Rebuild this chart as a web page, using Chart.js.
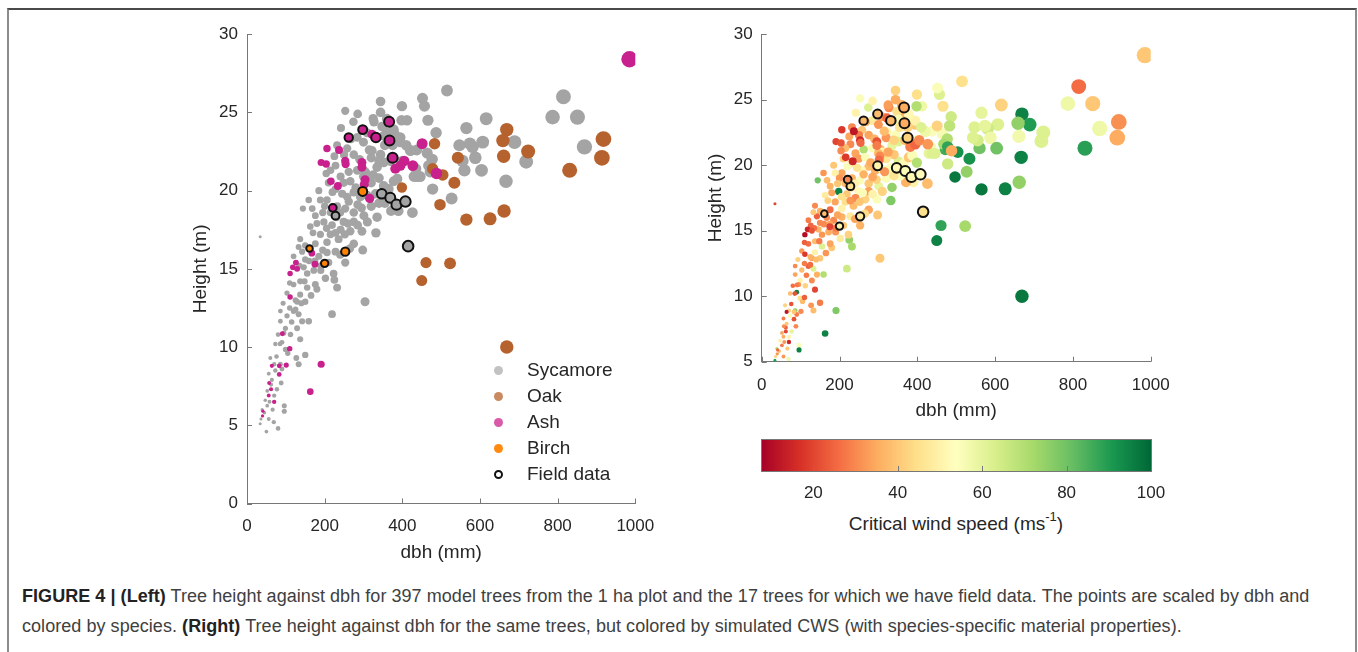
<!DOCTYPE html>
<html>
<head>
<meta charset="utf-8">
<script src="https://cdn.jsdelivr.net/npm/chart.js@4.4.1/dist/chart.umd.min.js"></script>
<style>
  body { margin: 0; width: 1358px; height: 652px; overflow: hidden; position: relative; background: #fff;
         font-family: "Liberation Sans", Arial, sans-serif; color: #262626; }
  .frame { position: absolute; left: 7px; top: 8px; width: 1346px; height: 700px;
           border-top: 2px solid #4a4a4a; border-left: 2px solid #8c8c8c; border-right: 2px solid #8c8c8c; }
  .box { position: absolute; }
  .legend { position: absolute; left: 490px; top: 357px; font-size: 19px; }
  .legend .row { height: 26px; line-height: 26px; position: relative; padding-left: 37px; }
  .legend .mk { position: absolute; left: 4px; top: 8.5px; width: 9px; height: 9px; border-radius: 50%; box-sizing: border-box; }
  .cbtitle { position: absolute; left: 761px; width: 390px; top: 511px; text-align: center; font-size: 19px; }
  .cbtitle sup { font-size: 13px; position: relative; top: -2px; }
  .caption { position: absolute; left: 22px; top: 581px; font-size: 18px; line-height: 30px; color: #404040; white-space: nowrap; letter-spacing: 0.05px; }
  .caption b { color: #222; }
</style>
</head>
<body>
<div class="frame"></div>
<div class="box" style="left:185px;top:15px;width:485px;height:551px"><canvas id="left"></canvas></div>
<div class="box" style="left:700px;top:15px;width:490px;height:409px"><canvas id="right"></canvas></div>
<div class="box" style="left:700px;top:425px;width:490px;height:80px"><canvas id="cbar"></canvas></div>
<div class="legend" id="legend"></div>
<div class="cbtitle">Critical wind speed (ms<sup>-1</sup>)</div>
<div class="caption"><b>FIGURE 4 | (Left)</b> Tree height against dbh for 397 model trees from the 1 ha plot and the 17 trees for which we have field data. The points are scaled by dbh and<br>colored by species. <b>(Right)</b> Tree height against dbh for the same trees, but colored by simulated CWS (with species-specific material properties).</div>
<script>
// [dbh (mm), height (m), critical wind speed (m/s)]
const sycamoreTrees = [
  [515,26.4,45],[815,26.0,26],[787,24.7,58],[851,24.7,40],[869,22.8,58],
  [616,24.6,42],[565,24.0,60],[689,23.1,90],[719,21.85,62],[667,20.6,95],
  [607,23.1,62],[581,22.8,65],[547,22.9,62],[588,22.1,58],[604,21.3,80],
  [560,21.3,80],[555,21.9,64],[466,24.5,45],[487,23.7,65],[457,25.4,62],
  [452,25.9,55],[399,25.4,45],[412,24.5,58],[344,25.7,42],[344,25.0,35],
  [253,25.1,55],[274,24.4,62],[242,24.0,50],[327,24.4,30],[398,24.5,70],
  [472,21.2,86],[478,20.1,65],[527,19.5,75],[430,20.9,60],[435,21.4,56],
  [426,18.6,38],[304,12.9,40],[219,12.1,65],[332,17.3,78],[298,16.2,40],
  [253,15.4,36],[225,14.3,75],[190,14.9,32],[360,23.7,36],[381,23.6,55],
  [394,23.1,40],[420,22.6,60],[437,22.6,55],[446,20.9,62],[390,18.7,50],
  [325,24.6,33],[348,24.1,45],[378,23.9,52],[309,23.7,34],[284,23.4,48],
  [352,23.5,56],[395,23.4,50],[421,22.55,58],[574,23.0,60],[464,22.4,56],
  [477,22.0,70],[232,22.9,30],[258,22.7,40],[275,22.3,34],[322,22.55,52],
  [320,22.1,32],[344,22.3,55],[352,21.8,62],[369,21.9,38],[335,21.5,60],
  [305,21.2,36],[284,21.3,55],[262,21.2,70],[241,20.9,34],[228,21.6,30],
  [215,21.3,38],[204,21.1,30],[210,20.5,42],[228,20.1,50],[249,20.5,33],
  [266,20.6,55],[275,19.9,38],[258,19.6,52],[292,19.6,36],[309,19.7,58],
  [331,19.8,55],[352,20.3,62],[365,20.1,52],[378,20.6,40],[387,20.75,55],
  [438,20.9,62],[468,21.6,72],[371,18.7,36],[335,18.3,75],[301,18.4,60],
  [275,18.6,40],[253,18.85,55],[232,19.0,36],[206,19.4,34],[189,19.4,50],
  [168,18.85,38],[159,19.4,32],[144,18.85,80],[176,18.4,36],[198,18.0,95],
  [219,17.8,40],[249,18.0,52],[275,18.0,33],[296,17.4,55],[266,17.4,42],
  [241,17.5,30],[215,17.2,45],[189,17.2,34],[163,17.7,48],[137,16.9,30],
  [150,16.5,36],[176,16.6,26],[206,16.7,50],[236,16.9,38],[275,16.6,34],
  [228,16.1,48],[206,16.05,36],[185,15.8,30],[142,16.1,24],[133,16.4,40],
  [172,14.9,35],[202,14.4,48],[232,13.8,72],[155,14.7,32],[137,14.2,38],
  [155,13.8,62],[180,13.7,40],[120,14.0,26],[103,13.45,32],[137,13.35,50],
  [150,12.9,40],[129,12.9,34],[120,12.3,24],[133,12.1,62],[142,11.65,36],
  [159,11.65,70],[103,12.0,38],[86,11.65,34],[99,11.2,50],[129,11.2,30],
  [112,10.8,42],[137,10.5,20],[80,10.8,26],[73,10.2,38],[90,10.3,95],
  [99,9.85,45],[127,9.3,32],[150,9.5,28],[133,8.9,38],[76,9.4,22],
  [86,8.9,75],[60,9.3,42],[73,8.5,55],[56,8.3,28],[64,7.9,40],
  [77,7.3,60],[52,7.2,34],[47,6.6,48],[96,6.25,55],[96,5.9,95],
  [52,6.25,28],[39,6.0,70],[36,5.4,42],[34,5.1,90],[56,5.4,32],
  [50,4.6,40],[80,4.8,52],[69,5.2,58],[34,17.05,20],[150,15.6,30],
  [146,15.1,36],[223,14.7,42],[176,14.0,34],[93,12.8,42],[86,12.3,30],
  [290,22.0,36],[310,21.0,50],[340,20.8,40],[355,19.2,55],[320,20.5,46],
  [295,18.9,42],[280,20.2,35],[260,17.9,55],[230,18.3,38],[195,16.2,34],
  [170,17.3,42],[160,15.5,30],[125,13.0,36],[110,12.5,28],
  [185,20.0,40],[200,19.0,32],[215,18.6,38],[240,18.6,50],[262,19.3,36],
  [285,19.1,34],[245,19.8,46],[220,19.9,55],[195,18.6,40],[180,17.9,34],
  [205,17.6,45],[228,17.3,32],[252,17.2,40],[285,17.8,50],[310,18.0,42],
  [320,19.0,55],[340,19.2,46],[300,20.9,38],[325,21.0,34],[340,21.9,42],
  [315,22.6,38],[300,23.1,32],[268,23.3,36],[250,22.3,28],[225,22.2,34],
  [285,24.9,50],[360,24.6,36],[375,22.9,42],[400,21.9,55],[410,22.9,62],
  [355,22.9,46],[160,16.3,28],[175,15.5,34],[190,15.2,28],[210,15.4,40],
  [240,15.9,34],[265,16.3,44],[148,14.2,28],[165,13.3,32],[125,12.4,26],
  [140,12.8,38],[115,11.6,28],[95,10.9,32],[85,10.2,22],[105,9.6,38],
  [90,8.6,28],[70,8.9,42],[62,7.6,24],[70,6.9,50],[58,6.5,32],
  [45,5.8,38],[88,7.7,30],[66,6.0,40],[120,15.8,28],[135,15.2,26],
  [110,14.1,24]
];
const oakTrees = [
  [669,23.9,95],[659,23.2,75],[661,22.2,57],[724,22.5,62],[918,23.3,31],
  [914,22.1,35],[831,21.3,89],[543,22.1,62],[483,23.0,68],[478,21.4,88],
  [504,21.0,92],[534,20.5,92],[399,20.2,70],[497,19.1,97],[565,18.15,97],
  [626,18.2,95],[662,18.7,75],[461,15.4,88],[523,15.35,72],[450,14.25,95],
  [669,10.0,97]
];
const ashTrees = [
  [985,28.4,40],[206,22.7,18],[237,22.6,12],[191,21.8,20],[204,21.7,22],
  [253,21.9,15],[254,21.7,25],[296,21.8,22],[296,21.5,28],[216,20.6,18],
  [234,20.3,15],[304,20.7,30],[302,20.4,26],[316,19.5,32],[322,23.6,25],
  [382,21.4,28],[395,21.6,25],[405,21.9,30],[427,21.6,32],[451,23.0,42],
  [488,21.1,35],[167,16.0,30],[175,15.3,20],[126,15.4,25],[118,15.1,15],
  [129,15.0,22],[111,14.7,10],[111,13.2,18],[91,10.85,28],[110,9.9,24],
  [191,8.9,78],[101,8.85,30],[83,8.8,40],[64,8.8,12],[83,8.25,22],
  [163,7.15,95],[57,7.7,30],[62,7.3,20],[56,6.9,35],[70,6.5,15],
  [41,5.9,25],[40,5.6,32]
];
const birchTrees = [];
// trees with field data (drawn with black edge)
const ashField = [[366,24.4,35],[298,23.9,38],[262,23.4,37],[332,23.4,37],[367,23.2,35],[375,22.1,42],[221,18.9,30]];
const birchField = [[298,19.95,50],[161,16.3,38],[253,16.1,48],[200,15.35,50]];
const sycamoreField = [[228,18.4,45],[347,19.8,52],[369,19.55,53],[385,19.1,52],[408,19.3,53],[415,16.45,45]];

const species = ['Sycamore', 'Oak', 'Ash', 'Birch'];
const speciesColors = ['#a4a4a4', '#b5622e', '#c8208c', '#ff8200'];
const legendColors = ['#c2c2c2', '#c98a62', '#d85aa8', '#ff8a10'];

const xTicks = [0, 200, 400, 600, 800, 1000];
const leftYTicks = [0, 5, 10, 15, 20, 25, 30];
const rightYTicks = [5, 10, 15, 20, 25, 30];
const colorTicks = [20, 40, 60, 80, 100];
const cwsMin = 7.6, cwsMax = 100;
const cwsColors = ['#a50026','#d73027','#f46d43','#fdae61','#fee08b','#ffffbf','#d9ef8b','#a6d96a','#66bd63','#1a9850','#006837'];

const axisColor = '#777777';
const textColor = '#262626';
const tickFont = { family: 'Liberation Sans', size: 17 };
const titleFont = { family: 'Liberation Sans', size: 19 };

function hexRgb(h) { return [1, 3, 5].map(i => parseInt(h.slice(i, i + 2), 16)); }
function cwsColor(v) {
  const t = Math.min(1, Math.max(0, (v - cwsMin) / (cwsMax - cwsMin))) * (cwsColors.length - 1);
  const i = Math.min(Math.floor(t), cwsColors.length - 2), f = t - i;
  const a = hexRgb(cwsColors[i]), b = hexRgb(cwsColors[i + 1]);
  return 'rgb(' + a.map((c, k) => Math.round(c + (b[k] - c) * f)).join(',') + ')';
}
function sizeFor(ctx) { return ctx.raw ? 0.26 * Math.sqrt(ctx.raw.x) : 3; }
const toPoints = rows => rows.map(r => ({ x: r[0], y: r[1], cws: r[2] }));

// MATLAB-style ticks pointing into the plot
const innerTicks = {
  id: 'innerTicks',
  afterDraw(chart) {
    const { ctx, chartArea: a, scales: { x, y } } = chart;
    ctx.save();
    ctx.strokeStyle = axisColor;
    ctx.lineWidth = 1;
    ctx.beginPath();
    x.ticks.forEach(t => {
      const p = Math.round(x.getPixelForValue(t.value)) + 0.5;
      ctx.moveTo(p, a.bottom); ctx.lineTo(p, a.bottom - 5);
    });
    if (y.options.display) {
      y.ticks.forEach(t => {
        const p = Math.round(y.getPixelForValue(t.value)) + 0.5;
        ctx.moveTo(a.left, p); ctx.lineTo(a.left + 5, p);
      });
    }
    ctx.stroke();
    ctx.restore();
  }
};

const plainLabel = v => String(v);

function scatterScales(yMin, yMax, yTicks, yWidth, xHeight) {
  return {
    x: {
      type: 'linear', min: 0, max: 1000,
      afterBuildTicks: s => { s.ticks = xTicks.map(v => ({ value: v })); },
      afterFit: s => { s.height = xHeight; },
      grid: { display: false, drawTicks: false },
      border: { color: axisColor, width: 1 },
      ticks: { color: textColor, font: tickFont, padding: 13, maxRotation: 0, autoSkip: false, callback: plainLabel },
      title: { display: true, text: 'dbh (mm)', color: textColor, font: titleFont, padding: { top: 0, bottom: 2 } }
    },
    y: {
      type: 'linear', min: yMin, max: yMax,
      afterBuildTicks: s => { s.ticks = yTicks.map(v => ({ value: v })); },
      afterFit: s => { s.width = yWidth; },
      grid: { display: false, drawTicks: false },
      border: { color: axisColor, width: 1 },
      ticks: { color: textColor, font: tickFont, padding: 9, autoSkip: false, callback: plainLabel },
      title: { display: true, text: 'Height (m)', color: textColor, font: titleFont, padding: { top: 4, bottom: 0 } }
    }
  };
}

const baseOptions = {
  responsive: true, maintainAspectRatio: false, animation: false, events: [],
  plugins: { legend: { display: false }, tooltip: { enabled: false } }
};

function speciesSet(rows, color, order) {
  return { data: toPoints(rows), backgroundColor: color, borderWidth: 0, pointRadius: sizeFor, order: order };
}
function fieldSet(rows, color, order) {
  return { data: toPoints(rows), backgroundColor: color, borderColor: '#111', borderWidth: 2, pointRadius: sizeFor, order: order };
}

new Chart(document.getElementById('left'), {
  type: 'scatter',
  data: {
    datasets: [
      speciesSet(sycamoreTrees, speciesColors[0], 8),
      speciesSet(oakTrees, speciesColors[1], 7),
      speciesSet(ashTrees, speciesColors[2], 6),
      speciesSet(birchTrees, speciesColors[3], 5),
      fieldSet(sycamoreField, speciesColors[0], 3),
      fieldSet(ashField, speciesColors[2], 2),
      fieldSet(birchField, speciesColors[3], 1)
    ]
  },
  options: Object.assign({}, baseOptions, {
    layout: { padding: { top: 16, right: 34.7, left: 0, bottom: 0 } },
    scales: scatterScales(0, 30, leftYTicks, 62, 62.5)
  }),
  plugins: [innerTicks]
});

const cwsFill = ctx => ctx.raw ? cwsColor(ctx.raw.cws) : '#ccc';
new Chart(document.getElementById('right'), {
  type: 'scatter',
  data: {
    datasets: [
      { data: toPoints(sycamoreTrees.concat(oakTrees, ashTrees, birchTrees)), backgroundColor: cwsFill, borderWidth: 0, pointRadius: sizeFor, order: 2 },
      { data: toPoints(sycamoreField.concat(ashField, birchField)), backgroundColor: cwsFill, borderColor: '#111', borderWidth: 2, pointRadius: sizeFor, order: 1 }
    ]
  },
  options: Object.assign({}, baseOptions, {
    layout: { padding: { top: 16, right: 39.3, left: 0, bottom: 0 } },
    scales: scatterScales(5, 30, rightYTicks, 61.7, 62.3)
  }),
  plugins: [innerTicks]
});

// colour bar drawn across the chart area, positioned through the x scale
const colorbarFill = {
  id: 'colorbarFill',
  beforeDatasetsDraw(chart) {
    const { ctx, chartArea: a, scales: { x } } = chart;
    const g = ctx.createLinearGradient(a.left, 0, a.right, 0);
    cwsColors.forEach((c, i) => {
      const v = cwsMin + i * (cwsMax - cwsMin) / (cwsColors.length - 1);
      g.addColorStop((x.getPixelForValue(v) - a.left) / (a.right - a.left), c);
    });
    ctx.save();
    ctx.fillStyle = g;
    ctx.fillRect(a.left, a.top, a.right - a.left, a.bottom - a.top);
    ctx.strokeStyle = axisColor;
    ctx.lineWidth = 1;
    ctx.strokeRect(Math.round(a.left) + 0.5, Math.round(a.top) + 0.5, Math.round(a.right - a.left), Math.round(a.bottom - a.top));
    ctx.restore();
  }
};

new Chart(document.getElementById('cbar'), {
  type: 'scatter',
  data: { datasets: [] },
  options: Object.assign({}, baseOptions, {
    layout: { padding: { top: 14.3, right: 39, left: 61, bottom: 0 } },
    scales: {
      x: {
        type: 'linear', min: cwsMin, max: cwsMax,
        afterBuildTicks: s => { s.ticks = colorTicks.map(v => ({ value: v })); },
        afterFit: s => { s.height = 80 - 46; },
        grid: { display: false, drawTicks: false },
        border: { display: false },
        ticks: { color: textColor, font: tickFont, padding: 12, maxRotation: 0, autoSkip: false, callback: plainLabel }
      },
      y: { display: false, min: 0, max: 1 }
    }
  }),
  plugins: [colorbarFill, innerTicks]
});

// legend
const legend = document.getElementById('legend');
species.forEach((name, i) => {
  legend.insertAdjacentHTML('beforeend', '<div class="row"><span class="mk" style="background:' + legendColors[i] + '"></span>' + name + '</div>');
});
legend.insertAdjacentHTML('beforeend', '<div class="row"><span class="mk" style="border:2px solid #111"></span>Field data</div>');
</script>
</body>
</html>
